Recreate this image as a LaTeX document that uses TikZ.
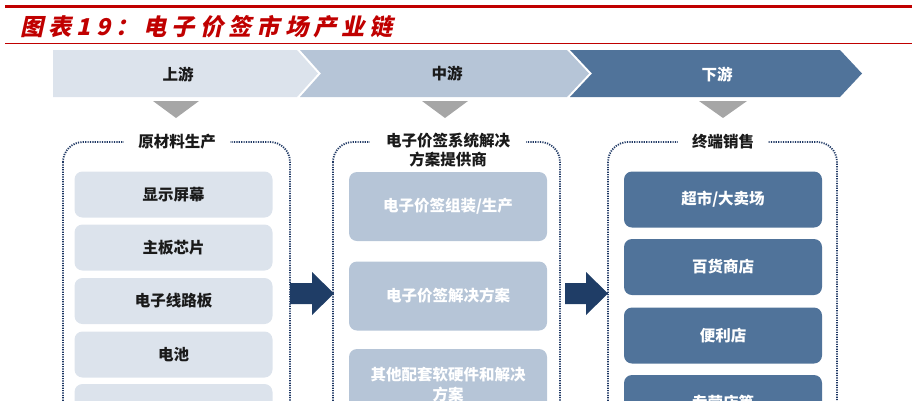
\documentclass[tikz,border=0pt]{standalone}
\usepackage{fontspec}
\newfontfamily\cjk{Noto Sans CJK SC}
\newfontfamily\titlecjk{Noto Sans CJK SC}[FakeSlant=0.22,LetterSpace=22]
\definecolor{redline}{HTML}{C00000}
\definecolor{lightc}{HTML}{DCE3EC}
\definecolor{midc}{HTML}{B6C5D7}
\definecolor{darkc}{HTML}{50739A}
\definecolor{navyc}{HTML}{1F3D66}
\definecolor{dotc}{HTML}{1F3864}
\definecolor{trigray}{HTML}{A6A6A6}
\definecolor{txtdark}{HTML}{1A1A1A}
\tikzset{
  itembox/.style={rounded corners=8pt, minimum width=198pt, inner sep=0pt, font=\cjk\bfseries\fontsize{15.5}{20}\selectfont, align=center},
  upbox/.style={itembox, fill=lightc, text=txtdark, minimum height=46pt},
  midbox/.style={itembox, fill=midc, text=white, minimum height=69pt},
  downbox/.style={itembox, fill=darkc, text=white, minimum height=56pt},
  frame/.style={draw=dotc, line width=1.8pt, dash pattern=on 1.2pt off 1.2pt, rounded corners=20pt},
  framelabel/.style={fill=white, inner xsep=14pt, inner ysep=1pt, font=\cjk\bfseries\fontsize{15.5}{19.5}\selectfont, text=txtdark, align=center},
  stagelabel/.style={font=\cjk\bfseries\fontsize{15.5}{19}\selectfont},
  bigarrow/.style={fill=navyc},
  downtri/.style={fill=trigray}
}
\begin{document}
\begin{tikzpicture}[x=1pt,y=-1pt]
\useasboundingbox (0,0) rectangle (920,400);
\begin{scope}
\clip (0,0) rectangle (920,400);
% header lines
\draw[redline, line width=3pt] (5,6) -- (912,6);
\draw[redline, line width=1pt] (5,43.5) -- (912,43.5);
\node[anchor=west, text=redline, font=\titlecjk\bfseries\fontsize{23.2}{27}\selectfont, inner sep=0pt] (title) at (20,27) {图表19：电子价签市场产业链};
% chevrons
\fill[lightc] (53,50) -- (297,50) -- (318,73.5) -- (297,97) -- (53,97) -- cycle;
\fill[midc] (300,50) -- (567,50) -- (589,73.5) -- (567,97) -- (300,97) -- (321,73.5) -- cycle;
\fill[darkc] (570,50) -- (840,50) -- (862,73.5) -- (840,97) -- (570,97) -- (592,73.5) -- cycle;
\node[stagelabel, text=txtdark] (s1) at (178,74) {上游};
\node[stagelabel, text=txtdark] (s2) at (447,74) {中游};
\node[stagelabel, text=white] (s3) at (717,74) {下游};
% triangles
\fill[downtri] (153,101) -- (199,101) -- (176,118) -- cycle;
\fill[downtri] (422,101) -- (468,101) -- (445,118) -- cycle;
\fill[downtri] (699,101) -- (747,101) -- (723,118) -- cycle;
% frames
\draw[frame] (63,142) rectangle (290,450);
\draw[frame] (333,142) rectangle (560,450);
\draw[frame] (608,142) rectangle (837,450);
\node[framelabel] (f1) at (177,142) {原材料生产};
\node[framelabel, inner xsep=16pt] (f2) at (448,150) {电子价签系统解决\\方案提供商};
\node[framelabel] (f3) at (723,142) {终端销售};
% upstream items
\node[upbox] (u1) at (173.5,194.5) {显示屏幕};
\node[upbox] (u2) at (173.5,247.5) {主板芯片};
\node[upbox] (u3) at (173.5,301) {电子线路板};
\node[upbox] (u4) at (173.5,354.5) {电池};
\node[upbox] (u5) at (173.5,407) {};
% midstream items
\node[midbox] (m1) at (448,206.5) {电子价签组装/生产};
\node[midbox] (m2) at (448,296) {电子价签解决方案};
\node[midbox, minimum height=72pt] (m3) at (448,385) {其他配套软硬件和解决\\方案};
% downstream items
\node[downbox] (d1) at (723,199.5) {超市/大卖场};
\node[downbox] (d2) at (723,267) {百货商店};
\node[downbox] (d3) at (723,335.5) {便利店};
\node[downbox] (d4) at (723,403) {专营店等};
% block arrows
\fill[bigarrow] (290,283) -- (312,283) -- (312,272) -- (334,293.5) -- (312,315) -- (312,304) -- (290,304) -- cycle;
\fill[bigarrow] (565,283) -- (586,283) -- (586,272) -- (608,293.5) -- (586,315) -- (586,304) -- (565,304) -- cycle;
\end{scope}
\end{tikzpicture}
\end{document}
